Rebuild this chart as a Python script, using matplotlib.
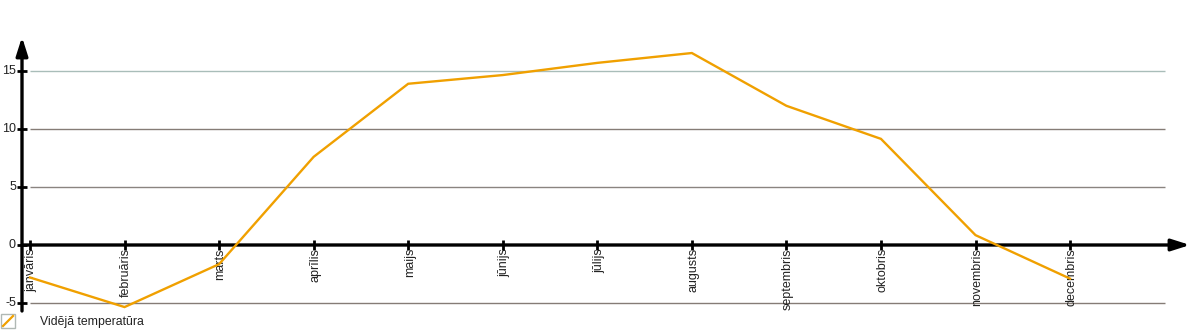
import matplotlib
matplotlib.use("Agg")
import matplotlib.pyplot as plt

months = ["janvāris", "februāris", "marts", "aprīlis", "maijs", "jūnijs",
          "jūlijs", "augusts", "septembris", "oktobris", "novembris", "decembris"]
temps = [-2.8, -5.35, -1.65, 7.6, 13.9, 14.65, 15.7, 16.55, 12.0, 9.15, 0.85, -2.9]
yticks = [-5, 0, 5, 10, 15]
legend_label = "Vidējā temperatūra"

plt.rcParams['font.family'] = ['Liberation Sans', 'DejaVu Sans']

fig = plt.figure(figsize=(12, 3.3), dpi=100)
ax = fig.add_axes([0, 0, 1, 1])
ax.set_axis_off()

# pixel -> data mapping
x0, dx = 30.0, 94.55
y0, dy = 245.0, 11.6
ax.set_xlim(-x0 / dx, (1200 - x0) / dx)
ax.set_ylim((y0 - 330) / dy, y0 / dy)

xs = list(range(len(months)))
yaxis_x = (22 - x0) / dx
grid_end = (1165 - x0) / dx
xaxis_end = (1190 - x0) / dx

# gridlines
grid_colors = {-5: '#857c76', 5: '#8a8480', 10: '#857c76', 15: '#a9bdb9'}
for v in yticks:
    if v == 0:
        continue
    ax.plot([0, grid_end], [v, v], color=grid_colors[v], lw=1.0, zorder=1,
            solid_capstyle='butt')

# x axis with arrow
ax.annotate('', xy=(xaxis_end, 0), xytext=(yaxis_x, 0),
            arrowprops=dict(arrowstyle='-|>,head_length=1.1,head_width=0.35',
                            color='black', lw=2.4, shrinkA=0, shrinkB=0), zorder=3)
# y axis with arrow
ybot = (y0 - 311) / dy
ytop = (y0 - 37) / dy
ax.annotate('', xy=(yaxis_x, ytop), xytext=(yaxis_x, ybot),
            arrowprops=dict(arrowstyle='-|>,head_length=1.1,head_width=0.35',
                            color='black', lw=2.4, shrinkA=0, shrinkB=0), zorder=3)

# y ticks
tick_h = 5 / dx
for v in yticks:
    ax.plot([yaxis_x - tick_h, yaxis_x + tick_h], [v, v], color='black', lw=2.0,
            zorder=4, solid_capstyle='butt')
    ax.text((16 - x0) / dx, v, str(v), ha='right', va='center', fontsize=9,
            color='#222222')

# x ticks and labels
tick_v = 5 / dy
lab_shift = 1.5 / dx
for x, m in zip(xs, months):
    ax.plot([x, x], [-tick_v, tick_v], color='black', lw=2.0, zorder=4,
            solid_capstyle='butt')
    ax.text(x + lab_shift, -3 / dy, m, rotation=90, ha='center', va='top',
            fontsize=9, color='#222222')

# data line
ax.plot(xs, temps, color='#f0a000', lw=1.7, zorder=5, solid_joinstyle='miter')

# legend
lx0, lx1 = (1 - x0) / dx, (15 - x0) / dx
ly0, ly1 = (y0 - 328) / dy, (y0 - 314) / dy
ax.add_patch(plt.Rectangle((lx0, ly0), lx1 - lx0, ly1 - ly0, fill=False,
                           edgecolor='#b0b8b4', lw=1.0, zorder=5))
ax.plot([(3 - x0) / dx, (13 - x0) / dx], [(y0 - 326) / dy, (y0 - 316) / dy],
        color='#f0a000', lw=1.6, zorder=6)
ax.text((40 - x0) / dx, (y0 - 322) / dy, legend_label, ha='left', va='center',
        fontsize=8.8, color='#222222')

fig.savefig('out.png', dpi=100)
